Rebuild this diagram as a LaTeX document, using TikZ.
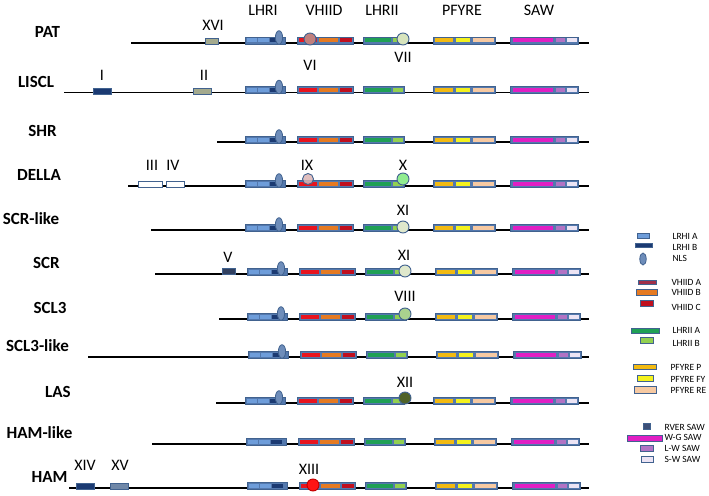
\documentclass[tikz,border=0pt]{standalone}
\usepackage{fontspec}
\setmainfont{Carlito}
\usetikzlibrary{positioning}

\definecolor{boxline}{HTML}{41628F}
\definecolor{boxfill}{HTML}{5479AE}
\definecolor{lhria}{HTML}{6E9DDA}
\definecolor{lhrib}{HTML}{1B3A72}
\definecolor{vhiida}{HTML}{E8141E}
\definecolor{vhiidb}{HTML}{E57A22}
\definecolor{vhiidc}{HTML}{C00F1E}
\definecolor{lhriia}{HTML}{1FA055}
\definecolor{lhriib}{HTML}{92D050}
\definecolor{pfyrep}{HTML}{F2BA12}
\definecolor{pfyrefy}{HTML}{F4F21E}
\definecolor{pfyrere}{HTML}{F6C9A2}
\definecolor{sawwg}{HTML}{E01FC4}
\definecolor{sawlw}{HTML}{B273C4}
\definecolor{sawsw}{HTML}{ECE4F4}
\definecolor{rversaw}{HTML}{3D5078}
\definecolor{olivebox}{HTML}{A4AA8E}

\tikzset{
  dom/.style={draw=boxline, line width=0.8pt, fill=boxfill},
  rowline/.style={black, line width=1.6pt},
  rowname/.style={font=\fontsize{17}{19}\selectfont\bfseries},
  numlabel/.style={font=\fontsize{16}{18}\selectfont},
  site/.style={circle, draw=boxline, line width=0.9pt, minimum size=12pt, inner sep=0pt},
  legtext/.style={font=\fontsize{9.5}{10}\selectfont, anchor=west},
}

\begin{document}
\begin{tikzpicture}[x=1pt, y=-1pt]
\useasboundingbox (0,0) rectangle (709,495);

% column headers
\node[numlabel] (hLHRI) at (263,10) {LHRI};
\node[numlabel] (hVHIID) at (324,10) {VHIID};
\node[numlabel] (hLHRII) at (382,10) {LHRII};
\node[numlabel] (hPFYRE) at (462,10) {PFYRE};
\node[numlabel] (hSAW) at (539,10) {SAW};

% rows: name / line y / label x / line start / shift / NLS
\foreach \name/\ry/\lx/\xs/\dx/\nls [count=\i] in {
    PAT/43/47.5/131/0/1, LISCL/92.5/36/64/0/1, SHR/142/42.5/217/0/1,
    DELLA/186/39/128/0/1, SCR-like/230/31/151/0/1, SCR/274/46.5/155/2/1,
    SCL3/319/50/219/2/1, SCL3-like/357/37.5/88/3/1, LAS/403/58/216/0/1,
    HAM-like/444/39.5/152/1/0, HAM/488/49.5/69/2/0}{
  \node[rowname] (lbl\i) at (\lx,\ry-11) {\name};
  \coordinate (ls\i) at (\xs,\ry);
  \coordinate (le\i) at (589,\ry);
  \draw[rowline] (ls\i) -- (le\i);
  \begin{scope}[shift={(\dx,\ry)}]
    % LHRI
    \draw[dom] (245,-6) rectangle (285,1);
    \fill[lhria] (246.5,-4.5) rectangle (257,-0.5);
    \fill[lhria] (258,-4.5) rectangle (269,-0.5);
    \fill[lhrib] (270,-4.5) rectangle (281,-0.5);
    \ifnum\nls=1
      \draw[dom, fill=boxfill!85!white] (279,-5.5) ellipse [x radius=3.6pt, y radius=6.8pt];
    \fi
    % VHIID
    \draw[dom] (297,-6) rectangle (353,1);
    \fill[vhiida] (298.5,-4.5) rectangle (317,-0.5);
    \fill[vhiidb] (319,-4.5) rectangle (338,-0.5);
    \fill[vhiidc] (340,-4.5) rectangle (351.5,-0.5);
    % LHRII
    \draw[dom] (363,-6) rectangle (404,1);
    \fill[lhriia] (364.5,-4.5) rectangle (391,-0.5);
    \fill[lhriib] (392.5,-4.5) rectangle (402.5,-0.5);
    % PFYRE
    \draw[dom] (433,-6) rectangle (495,1);
    \fill[pfyrep] (434.5,-4.5) rectangle (453,-0.5);
    \fill[pfyrefy] (456,-4.5) rectangle (470,-0.5);
    \fill[pfyrere] (473,-4.5) rectangle (493.5,-0.5);
    % SAW
    \draw[dom] (510,-6) rectangle (578,1);
    \fill[sawwg] (513,-4.5) rectangle (553,-0.5);
    \fill[sawlw] (556,-4.5) rectangle (565,-0.5);
    \fill[sawsw] (567,-4.5) rectangle (576.5,-0.5);
  \end{scope}
}

% PAT
\draw[dom, fill=olivebox] (205,38) rectangle (218,44);
\node[numlabel] (nXVI) at (213,25) {XVI};
\node[site, fill={rgb,255:red,192;green,128;blue,126}] (sVI) at (310,39) {};
\node[numlabel] (nVI) at (310,65) {VI};
\node[site, fill={rgb,255:red,215;green,228;blue,189}] (sVII) at (403,39) {};
\node[numlabel] (nVII) at (403,57) {VII};

% LISCL
\draw[dom, fill=lhrib] (93,88) rectangle (111,94);
\node[numlabel] (nI) at (102,75) {I};
\draw[dom, fill=olivebox] (193,88) rectangle (211,94);
\node[numlabel] (nII) at (204,75) {II};

% DELLA
\draw[dom, fill=white] (138,181) rectangle (162,187);
\node[numlabel] (nIII) at (152,165) {III};
\draw[dom, fill=white] (166,181) rectangle (184,187);
\node[numlabel] (nIV) at (173,165) {IV};
\node[site, minimum size=11pt, fill={rgb,255:red,220;green,180;blue,180}, fill opacity=0.85] (sIX) at (308,179) {};
\node[numlabel] (nIX) at (307,165) {IX};
\node[site, fill={rgb,255:red,144;green,236;blue,144}] (sX) at (403,179) {};
\node[numlabel] (nX) at (403,165) {X};

% SCR-like
\node[site, fill={rgb,255:red,223;green,232;blue,204}] (sXIa) at (403,227) {};
\node[numlabel] (nXIa) at (403,210) {XI};

% SCR
\draw[dom, fill=rversaw!80!black] (222,268) rectangle (235,274);
\node[numlabel] (nV) at (228,257) {V};
\node[site, fill={rgb,255:red,223;green,232;blue,204}] (sXIb) at (405,271) {};
\node[numlabel] (nXIb) at (404,255) {XI};

% SCL3
\node[site, fill={rgb,255:red,169;green,209;blue,142}] (sVIII) at (405,314) {};
\node[numlabel] (nVIII) at (405,296) {VIII};

% LAS
\node[site, fill={rgb,255:red,79;green,98;blue,40}] (sXII) at (405,398) {};
\node[numlabel] (nXII) at (405,382) {XII};

% HAM
\draw[dom, fill=lhrib] (76,483) rectangle (94,489);
\node[numlabel] (nXIV) at (85,465) {XIV};
\draw[dom, fill={rgb,255:red,112;green,136;blue,168}] (110,483) rectangle (128,489);
\node[numlabel] (nXV) at (120,465) {XV};
\node[site, draw={rgb,255:red,192;green,0;blue,0}, fill={rgb,255:red,255;green,20;blue,20}] (sXIII) at (313,485) {};
\node[numlabel] (nXIII) at (309,469) {XIII};

% legend
\draw[dom, fill=lhria] (637,233) rectangle (649,238);
\node[legtext] (kLRHIA) at (669,236) {LRHI A};
\draw[dom, fill=lhrib] (635,243) rectangle (652,247);
\node[legtext] (kLRHIB) at (669,247) {LRHI B};
\draw[dom, fill=boxfill!85!white] (643,259) ellipse [x radius=3.2pt, y radius=6pt];
\node[legtext] (kNLS) at (669,258) {NLS};

\draw[dom, fill=vhiidc!70!boxfill] (638,280) rectangle (656,284);
\node[legtext] (kVHIIDA) at (668,282) {VHIID A};
\draw[dom, fill=vhiidb] (636,289) rectangle (657,295);
\node[legtext] (kVHIIDB) at (668,292) {VHIID B};
\draw[dom, fill=vhiidc] (640,300) rectangle (653,306);
\node[legtext] (kVHIIDC) at (668,307) {VHIID C};

\draw[dom, fill=lhriia] (631,328) rectangle (659,333);
\node[legtext] (kLHRIIA) at (669,330) {LHRII A};
\draw[dom, fill=lhriib] (640,337) rectangle (653,343);
\node[legtext] (kLHRIIB) at (669,343) {LHRII B};

\draw[dom, fill=pfyrep] (633,364) rectangle (656,369);
\node[legtext] (kPFYREP) at (667,367) {PFYRE P};
\draw[dom, fill=pfyrefy] (637,375) rectangle (653,381);
\node[legtext] (kPFYREFY) at (667,379) {PFYRE FY};
\draw[dom, fill=pfyrere] (634,386) rectangle (656,393);
\node[legtext] (kPFYRERE) at (667,390) {PFYRE RE};

\draw[dom, fill=rversaw] (643,423) rectangle (650,429);
\node[legtext] (kRVER) at (661,427) {RVER SAW};
\draw[dom, fill=sawwg] (627,435) rectangle (662,441);
\node[legtext] (kWG) at (661,437.5) {W-G SAW};
\draw[dom, fill=sawlw] (640,445) rectangle (653,451);
\node[legtext] (kLW) at (661,448) {L-W SAW};
\draw[dom, fill=sawsw] (641,456) rectangle (653,462);
\node[legtext] (kSW) at (661,459) {S-W SAW};
\end{tikzpicture}
\end{document}
